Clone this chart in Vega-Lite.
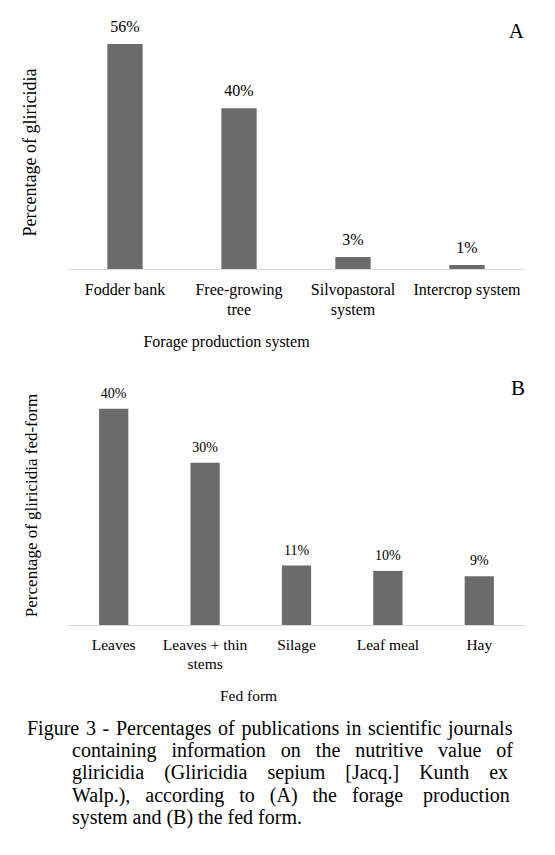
{
  "$schema": "https://vega.github.io/schema/vega-lite/v6.json",
  "background": "white",
  "padding": {"left": 20, "top": 19, "right": 5, "bottom": 5},
  "config": {
    "font": "Liberation Serif",
    "view": {"stroke": null},
    "axis": {"grid": false, "ticks": false, "labelColor": "#000", "titleColor": "#000", "titleFontWeight": "normal", "labelFont": "Liberation Serif", "titleFont": "Liberation Serif"},
    "title": {"color": "#000", "fontWeight": "normal", "font": "Liberation Serif"},
    "text": {"font": "Liberation Serif", "color": "#000"}
  },
  "spacing": 28,
  "vconcat": [
    {
      "width": 456,
      "height": 241,
      "title": {"text": "A", "anchor": "end", "fontSize": 21, "offset": -23, "font": "Liberation Serif"},
      "data": {"values": [
        {"system": "Fodder bank", "pct": 0.56},
        {"system": "Free-growing tree", "pct": 0.40},
        {"system": "Silvopastoral system", "pct": 0.03},
        {"system": "Intercrop system", "pct": 0.01}
      ]},
      "encoding": {
        "x": {"field": "system", "type": "nominal", "sort": null,
          "scale": {"paddingInner": 0.69, "paddingOuter": 0.345},
          "axis": {"labelAngle": 0, "labelFont": "Liberation Serif", "labelFontSize": 16, "labelPadding": 12, "labelLineHeight": 20,
            "labelExpr": "datum.label == 'Free-growing tree' ? ['Free-growing', 'tree'] : datum.label == 'Silvopastoral system' ? ['Silvopastoral', 'system'] : datum.label",
            "domainColor": "#d9d9d9", "title": "Forage production system", "titleFont": "Liberation Serif", "titleFontSize": 16,
            "titleX": 158, "titleY": 72, "titleAlign": "center", "titleBaseline": "middle"}},
        "y": {"field": "pct", "type": "quantitative", "scale": {"domain": [0, 0.6]},
          "axis": {"title": "Percentage of gliricidia", "titleFont": "Liberation Serif", "titleFontSize": 18, "labels": false, "domain": false,
            "titleX": -38, "titleY": 124, "titleAngle": -90, "titleAlign": "center", "titleBaseline": "middle"}}
      },
      "layer": [
        {"mark": {"type": "bar", "color": "#6b6b6b"}},
        {"mark": {"type": "text", "baseline": "bottom", "dy": -9, "fontSize": 16, "font": "Liberation Serif"},
          "encoding": {"text": {"field": "pct", "type": "quantitative", "format": ".0%"}}}
      ]
    },
    {
      "width": 457,
      "height": 238,
      "title": {"text": "B", "anchor": "end", "fontSize": 21, "offset": -12, "font": "Liberation Serif"},
      "data": {"values": [
        {"form": "Leaves", "pct": 0.40},
        {"form": "Leaves + thin stems", "pct": 0.30},
        {"form": "Silage", "pct": 0.11},
        {"form": "Leaf meal", "pct": 0.10},
        {"form": "Hay", "pct": 0.09}
      ]},
      "encoding": {
        "x": {"field": "form", "type": "nominal", "sort": null,
          "scale": {"paddingInner": 0.68, "paddingOuter": 0.34},
          "axis": {"labelAngle": 0, "labelFont": "Liberation Serif", "labelFontSize": 15.5, "labelPadding": 12, "labelLineHeight": 19,
            "labelExpr": "datum.label == 'Leaves + thin stems' ? ['Leaves + thin', 'stems'] : datum.label",
            "domainColor": "#d9d9d9", "title": "Fed form", "titleFont": "Liberation Serif", "titleFontSize": 15.5,
            "titleX": 180, "titleY": 70, "titleAlign": "center", "titleBaseline": "middle"}},
        "y": {"field": "pct", "type": "quantitative", "scale": {"domain": [0, 0.44]},
          "axis": {"title": "Percentage of gliricidia fed-form", "titleFont": "Liberation Serif", "titleFontSize": 17, "labels": false, "domain": false,
            "titleX": -37, "titleY": 118, "titleAngle": -90, "titleAlign": "center", "titleBaseline": "middle"}}
      },
      "layer": [
        {"mark": {"type": "bar", "color": "#6b6b6b"}},
        {"mark": {"type": "text", "baseline": "bottom", "dy": -8, "fontSize": 14, "font": "Liberation Serif"},
          "encoding": {"text": {"field": "pct", "type": "quantitative", "format": ".0%"}}}
      ]
    }
  ],
  "title": {
    "text": [
      "Figure\u00a0\u200a3\u00a0\u200a-\u00a0\u200aPercentages\u00a0\u200aof\u00a0\u200apublications\u00a0\u200ain\u00a0\u200ascientific\u00a0\u200ajournals",
      "\u200b\u00a0\u00a0\u00a0\u00a0\u00a0\u00a0\u00a0\u00a0\u00a0containing\u00a0\u00a0\u00a0information\u00a0\u00a0\u00a0on\u00a0\u00a0\u00a0the\u00a0\u00a0\u00a0nutritive\u00a0\u00a0\u00a0value\u00a0\u00a0\u00a0of",
      "\u200b\u00a0\u00a0\u00a0\u00a0\u00a0\u00a0\u00a0\u00a0\u00a0gliricidia\u00a0\u00a0\u00a0\u00a0(Gliricidia\u00a0\u00a0\u00a0\u00a0sepium\u00a0\u00a0\u00a0\u00a0[Jacq.]\u00a0\u00a0\u00a0\u00a0Kunth\u00a0\u00a0\u00a0\u00a0ex",
      "\u200b\u00a0\u00a0\u00a0\u00a0\u00a0\u00a0\u00a0\u00a0\u00a0Walp.),\u00a0\u00a0\u00a0according\u00a0\u00a0\u00a0to\u00a0\u00a0\u00a0(A)\u00a0\u00a0\u00a0the\u00a0\u00a0\u00a0forage\u00a0\u00a0\u00a0\u00a0production",
      "\u200b\u00a0\u00a0\u00a0\u00a0\u00a0\u00a0\u00a0\u00a0\u00a0system and (B) the fed form."
    ],
    "orient": "bottom", "anchor": "start", "fontSize": 20, "lineHeight": 22.4, "offset": 15, "dx": 6
  }
}
